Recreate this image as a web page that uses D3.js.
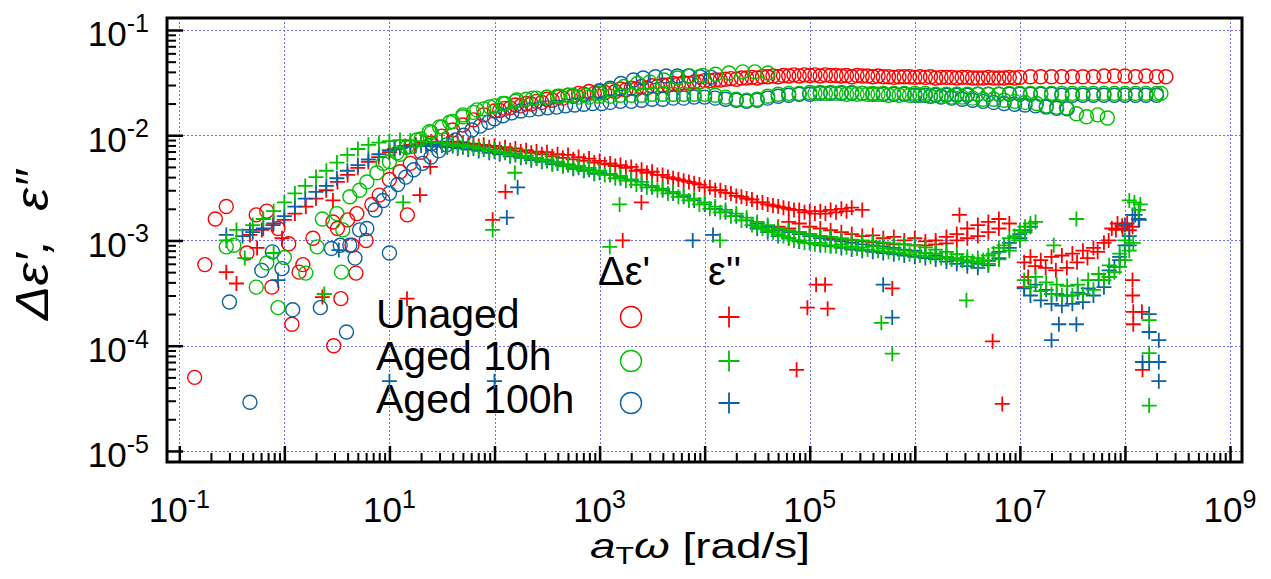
<!DOCTYPE html>
<html>
<head>
<meta charset="utf-8">
<script src="https://cdn.jsdelivr.net/npm/d3@7"></script>
<style>
  body { margin: 0; background: #fff; }
  svg { display: block; }
  text { font-family: "Liberation Sans", Arial, Helvetica, sans-serif; fill: #000; }
</style>
</head>
<body>
<svg id="chart" width="1271" height="579"></svg>
<script>
// ---- axis ticks -------------------------------------------------------
const xMajorTicks = [1e-1, 1e0, 1e1, 1e2, 1e3, 1e4, 1e5, 1e6, 1e7, 1e8, 1e9];
const xLabelTicks = [1e-1, 1e1, 1e3, 1e5, 1e7, 1e9];
const yMajorTicks = [1e-5, 1e-4, 1e-3, 1e-2, 1e-1];
const yLabelTicks = [1e-5, 1e-4, 1e-3, 1e-2, 1e-1];
const minorMantissas = [2, 3, 4, 5, 6, 7, 8, 9];

// ---- samples ------------------------------------------------------------
const sampleNames = ["Unaged", "Aged 10h", "Aged 100h"];
const sampleColors = ["#ff0000", "#00c000", "#0b62a2"];

// ---- measured data: [a_T·ω (rad/s), value] ---------------------------------
// Δε' of the unaged sample
const unagedStorage = [
  [0.14,5.0e-5],[0.175,5.9e-4],[0.22,1.6e-3],[0.28,2.1e-3],[0.44,7.6e-4],[0.54,1.75e-3],
  [0.68,1.9e-3],[0.76,3.6e-4],[0.87,1.3e-3],[1.1,9.3e-4],[1.18,1.6e-4],[1.38,5.0e-4],
  [1.5,5.9e-4],[1.87,1.05e-3],[2.9,1.5e-3],[2.95,1.0e-4],[3.2,1.3e-3],[3.45,2.8e-4],
  [4.0,1.57e-3],[4.4,9.0e-4],[4.8,4.9e-4],[4.9,1.8e-3],[6.0,1.0e-3],[6.8,2.2e-3],
  [8.0,2.7e-3],[14.8,1.75e-3],
  [10,3.8e-3],[12.6,4.5e-3],[15.8,5.4e-3],[20,6.9e-3],[25,8.4e-3],[31.6,9.8e-3],[40,1.12e-2],
  [50,1.25e-2],[63,1.4e-2],[79,1.56e-2],[100,1.7e-2],[126,1.8e-2],[158,1.94e-2],[200,2.0e-2],
  [251,2.1e-2],[316,2.2e-2],[398,2.3e-2],[501,2.4e-2],[631,2.5e-2],[794,2.6e-2],[1000,2.65e-2],
  [1260,2.7e-2],[1580,2.75e-2],[2000,2.8e-2],[2510,2.9e-2],[3160,2.95e-2],[3980,3.0e-2],
  [5010,3.1e-2],[6310,3.15e-2],[7940,3.2e-2],[1e4,3.3e-2],[1.26e4,3.35e-2],[1.58e4,3.4e-2],
  [2e4,3.4e-2],[2.51e4,3.5e-2],[3.16e4,3.5e-2],[3.98e4,3.6e-2],[5.01e4,3.6e-2],[6.31e4,3.65e-2],
  [7.94e4,3.65e-2],[1e5,3.7e-2],[1.26e5,3.65e-2],[1.58e5,3.7e-2],[2e5,3.65e-2],[2.51e5,3.6e-2],
  [3.16e5,3.65e-2],[3.98e5,3.6e-2],[5.01e5,3.6e-2],[6.31e5,3.55e-2],[7.94e5,3.6e-2],[1e6,3.55e-2],
  [1.26e6,3.55e-2],[1.58e6,3.5e-2],[2e6,3.55e-2],[2.51e6,3.5e-2],[3.16e6,3.55e-2],[3.98e6,3.5e-2],
  [5.01e6,3.55e-2],[6.31e6,3.5e-2],[7.94e6,3.55e-2],[1e7,3.55e-2],[1.26e7,3.6e-2],[1.58e7,3.6e-2],
  [2e7,3.6e-2],[2.51e7,3.6e-2],[3.16e7,3.6e-2],[3.98e7,3.6e-2],[5.01e7,3.6e-2],[6.31e7,3.65e-2],
  [7.94e7,3.65e-2],[1e8,3.65e-2],[1.26e8,3.6e-2],[1.58e8,3.65e-2],[2e8,3.6e-2],[2.45e8,3.6e-2],
  [112,1.72e-2],[141,1.82e-2],[178,1.9e-2],[224,1.98e-2],[282,2.05e-2],[355,2.15e-2],[447,2.25e-2],
  [562,2.35e-2],[708,2.45e-2],[891,2.5e-2],[1120,2.55e-2],[1410,2.6e-2],[1780,2.7e-2],[2240,2.75e-2],
  [2820,2.8e-2],[3550,2.9e-2],[4470,3.0e-2],[5620,3.05e-2],[7080,3.1e-2],[8910,3.2e-2],
  [1.12e4,3.3e-2],[1.41e4,3.35e-2],[1.78e4,3.45e-2],[2.24e4,3.5e-2],[2.82e4,3.55e-2],[3.55e4,3.6e-2],
  [4.47e4,3.65e-2],[5.62e4,3.7e-2],[7.08e4,3.75e-2],[8.91e4,3.75e-2],[1.12e5,3.75e-2],[1.41e5,3.75e-2],
  [1.78e5,3.7e-2],[2.24e5,3.7e-2],[2.82e5,3.7e-2],[3.55e5,3.65e-2],[4.47e5,3.65e-2],[5.62e5,3.6e-2],
  [7.08e5,3.6e-2],[8.91e5,3.6e-2],[1.12e6,3.6e-2],[1.41e6,3.6e-2],[1.78e6,3.55e-2],[2.24e6,3.55e-2],
  [2.82e6,3.55e-2],[3.55e6,3.5e-2],[4.47e6,3.5e-2],[5.62e6,3.5e-2],[7.08e6,3.5e-2],[8.91e6,3.5e-2]
];

// Δε' after 10 h of ageing
const aged10hStorage = [
  [0.28,8.7e-4],[0.33,9.0e-4],[0.54,3.6e-4],[0.68,6.1e-4],[0.87,2.3e-4],[1.0,6.9e-4],
  [1.6,4.9e-4],[2.05,8.7e-4],[3.5,5.0e-4],[3.6,1.26e-3],
  [2.3,1.6e-3],[3.16,1.8e-3],[4.2,2.6e-3],[5.2,3.0e-3],[6.1,3.6e-3],[7.6,4.4e-3],[8.7,5.4e-3],
  [11.8,6.8e-3],[14.6,7.7e-3],[18.2,9.0e-3],[24,1.08e-2],[30,1.2e-2],[37.5,1.33e-2],[50,1.56e-2],
  [68,1.74e-2],[90,1.86e-2],[120,2.0e-2],[163,2.16e-2],[231,2.25e-2],[314,2.3e-2],[418,2.35e-2],
  [556,2.4e-2],[738,2.4e-2],[1000,2.5e-2],
  [10,5.6e-3],[12.6,6.6e-3],[15.8,7.8e-3],[20,9.2e-3],[25,1.06e-2],[31.6,1.2e-2],[40,1.35e-2],
  [50,1.5e-2],[63,1.65e-2],[79,1.78e-2],[100,1.9e-2],[126,2.0e-2],[158,2.1e-2],[200,2.2e-2],
  [251,2.25e-2],[316,2.3e-2],[398,2.35e-2],[501,2.4e-2],
  [1260,2.7e-2],[1700,2.9e-2],[2300,3.1e-2],[3000,3.2e-2],[4100,3.35e-2],[5500,3.5e-2],
  [7200,3.65e-2],[9600,3.7e-2],[1.27e4,3.8e-2],[1.7e4,3.9e-2],[2.3e4,4.0e-2],[3.0e4,4.0e-2],[4.0e4,3.9e-2],
  [631,2.3e-2],[794,2.3e-2],[1000,2.35e-2],[1260,2.35e-2],[1580,2.4e-2],[2000,2.4e-2],[2510,2.4e-2],
  [3160,2.45e-2],[3980,2.45e-2],[5010,2.45e-2],[6310,2.45e-2],[7940,2.45e-2],[1e4,2.45e-2],
  [1.26e4,2.4e-2],[1.58e4,2.3e-2],[2e4,2.2e-2],[2.51e4,2.15e-2],[3.16e4,2.2e-2],[3.98e4,2.35e-2],
  [5.01e4,2.45e-2],[6.31e4,2.5e-2],[7.94e4,2.5e-2],[1e5,2.55e-2],[1.26e5,2.55e-2],[1.58e5,2.55e-2],
  [2e5,2.55e-2],[2.51e5,2.55e-2],[3.16e5,2.5e-2],[3.98e5,2.5e-2],[5.01e5,2.5e-2],[6.31e5,2.5e-2],
  [7.94e5,2.5e-2],[1e6,2.5e-2],[1.26e6,2.5e-2],[1.58e6,2.45e-2],[2e6,2.45e-2],[2.51e6,2.45e-2],
  [3.16e6,2.45e-2],[3.98e6,2.45e-2],[5.01e6,2.45e-2],[6.31e6,2.45e-2],[7.94e6,2.5e-2],[1e7,2.5e-2],
  [1.26e7,2.5e-2],[1.58e7,2.5e-2],[2e7,2.5e-2],[2.51e7,2.5e-2],[3.16e7,2.5e-2],[3.98e7,2.5e-2],
  [5.01e7,2.5e-2],[6.31e7,2.5e-2],[7.94e7,2.5e-2],[1e8,2.5e-2],[1.26e8,2.5e-2],[1.58e8,2.5e-2],
  [2e8,2.5e-2],[2.2e8,2.5e-2],
  [1.12e5,2.5e-2],[1.41e5,2.5e-2],[1.78e5,2.5e-2],[2.24e5,2.45e-2],[2.82e5,2.45e-2],[3.55e5,2.45e-2],
  [4.47e5,2.45e-2],[5.62e5,2.4e-2],[7.08e5,2.4e-2],[8.91e5,2.4e-2],[1.12e6,2.4e-2],[1.41e6,2.35e-2],
  [1.78e6,2.35e-2],[2.24e6,2.3e-2],[2.82e6,2.3e-2],[3.55e6,2.25e-2],[4.47e6,2.2e-2],[5.62e6,2.2e-2],
  [7.08e6,2.15e-2],[8.91e6,2.1e-2],[1.12e7,2.05e-2],[1.44e7,2.0e-2],[1.79e7,1.9e-2],[2.23e7,1.85e-2],
  [2.77e7,1.82e-2],[3.45e7,1.6e-2],[4.3e7,1.5e-2],[5.5e7,1.56e-2],[6.8e7,1.46e-2]
];

// Δε' after 100 h of ageing
const aged100hStorage = [
  [0.3,2.6e-4],[0.47,2.9e-5],[0.61,5.2e-4],[0.77,7.8e-4],[0.95,5.4e-4],[1.2,2.2e-4],
  [2.2,2.3e-4],[2.8,8.4e-4],[3.4,9.0e-4],[3.9,1.35e-4],[4.2,9.0e-4],[4.7,6.8e-4],
  [5.2,1.26e-3],[6.1,1.3e-3],[10,7.6e-4],
  [7.3,1.95e-3],[8.7,2.4e-3],[10,2.8e-3],[12,3.4e-3],[14.3,4.0e-3],[17,4.7e-3],[20.7,5.4e-3],
  [24.8,6.2e-3],[29.5,7.1e-3],[35,8.1e-3],[42.5,9.0e-3],[51,1.0e-2],[61,1.12e-2],[73,1.22e-2],
  [88,1.33e-2],[100,1.43e-2],[120,1.53e-2],[146,1.63e-2],[178,1.7e-2],[216,1.74e-2],[263,1.78e-2],
  [320,1.82e-2],[390,1.85e-2],[475,1.9e-2],[580,1.94e-2],[705,1.97e-2],[860,2.0e-2],[1050,2.0e-2],
  [1260,2.05e-2],[1580,2.1e-2],[2000,2.1e-2],[2510,2.15e-2],[3160,2.2e-2],[3980,2.2e-2],
  [5010,2.25e-2],[6310,2.25e-2],[7940,2.3e-2],[1e4,2.3e-2],[1.26e4,2.25e-2],[1.58e4,2.2e-2],
  [2e4,2.15e-2],[2.51e4,2.1e-2],[3.16e4,2.15e-2],[3.98e4,2.25e-2],[5.01e4,2.35e-2],[6.31e4,2.4e-2],
  [7.94e4,2.45e-2],[1e5,2.45e-2],
  [1000,2.6e-2],[1260,2.8e-2],[1600,3.1e-2],[2100,3.35e-2],[2600,3.5e-2],[3400,3.6e-2],
  [4300,3.65e-2],[5500,3.65e-2],[7000,3.65e-2],[9000,3.6e-2],[1.15e4,3.55e-2],
  [1.26e5,2.5e-2],[1.58e5,2.5e-2],[2e5,2.5e-2],[2.51e5,2.5e-2],[3.16e5,2.5e-2],[3.98e5,2.45e-2],
  [5.01e5,2.45e-2],[6.31e5,2.45e-2],[7.94e5,2.45e-2],[1e6,2.4e-2],[1.26e6,2.4e-2],[1.58e6,2.4e-2],
  [2e6,2.4e-2],[2.51e6,2.4e-2],[3.16e6,2.4e-2],[3.98e6,2.45e-2],[5.01e6,2.45e-2],[6.31e6,2.45e-2],
  [7.94e6,2.45e-2],[1e7,2.45e-2],[1.26e7,2.45e-2],[1.58e7,2.45e-2],[2e7,2.45e-2],[2.51e7,2.4e-2],
  [3.16e7,2.4e-2],[3.98e7,2.4e-2],[5.01e7,2.4e-2],[6.31e7,2.4e-2],[7.94e7,2.4e-2],[1e8,2.4e-2],
  [1.26e8,2.4e-2],[1.58e8,2.4e-2],[2e8,2.4e-2],
  [1.12e6,2.4e-2],[1.41e6,2.35e-2],[1.78e6,2.3e-2],[2.24e6,2.25e-2],[2.82e6,2.2e-2],[3.55e6,2.15e-2],
  [4.47e6,2.1e-2],[5.62e6,2.05e-2],[7.08e6,2.0e-2],[8.91e6,1.97e-2],[1.12e7,1.94e-2],[1.41e7,1.9e-2],
  [1.78e7,1.85e-2],[2.24e7,1.8e-2],[2.82e7,1.78e-2]
];

// ε'' of the unaged sample
const unagedLoss = [
  [0.28,5.0e-4],[0.35,3.9e-4],[0.55,8.5e-4],[0.95,1.05e-3],[2.3,2.9e-4],[2.9,2.4e-3],
  [14.7,2.8e-4],[19.5,2.7e-3],[24.5,5.0e-3],[96,1.57e-3],[127,2.9e-3],[1660,1.0e-3],
  [2500,2.3e-3],[7.5e4,5.9e-5],[9.5e4,2.3e-4],[1.48e5,2.25e-4],[1.15e5,3.8e-4],[1.4e5,3.8e-4],
  [6.1e5,3.5e-4],[2.66e6,1.75e-3],[5.5e6,1.1e-4],[6.8e6,2.8e-5],
  [0.47,1.13e-3],[0.61,1.26e-3],[0.78,1.4e-3],[1.0,1.57e-3],[1.26,1.8e-3],[1.6,2.1e-3],[2.0,2.5e-3],
  [2.5,3.0e-3],[3.2,3.6e-3],[4.0,4.2e-3],[5.0,4.9e-3],[6.3,5.6e-3],[7.9,6.2e-3],[10,6.9e-3],
  [12.6,7.6e-3],[15.8,8.1e-3],[20,8.5e-3],[25,8.7e-3],[31.6,8.7e-3],[40,8.7e-3],[50,8.5e-3],
  [63,8.3e-3],[79,8.1e-3],[100,7.9e-3],[126,7.7e-3],[158,7.5e-3],[200,7.2e-3],[251,7.0e-3],
  [316,6.9e-3],[398,6.6e-3],[501,6.5e-3],[631,6.2e-3],[794,6.0e-3],[1000,5.7e-3],[1260,5.4e-3],
  [1580,5.2e-3],[2000,5.0e-3],[2510,4.7e-3],[3160,4.5e-3],[3980,4.2e-3],[5010,3.9e-3],
  [6310,3.7e-3],[7940,3.5e-3],[1e4,3.2e-3],[1.26e4,3.0e-3],[1.58e4,2.85e-3],[2e4,2.65e-3],
  [2.51e4,2.5e-3],[3.16e4,2.3e-3],[3.98e4,2.2e-3],[5.01e4,2.1e-3],[6.31e4,2.0e-3],[7.94e4,1.95e-3],
  [1e5,1.9e-3],[1.26e5,1.9e-3],[1.58e5,1.95e-3],[2e5,2.0e-3],[2.51e5,2.05e-3],[3.16e5,1.95e-3],
  [11.2,7.4e-3],[14.1,7.9e-3],[17.8,8.2e-3],[22.4,8.4e-3],[28.2,8.5e-3],[35.5,8.4e-3],[44.7,8.3e-3],
  [56.2,8.1e-3],[70.8,7.9e-3],[89.1,7.7e-3],[112,7.4e-3],[141,7.2e-3],[178,7.0e-3],[224,6.8e-3],
  [282,6.6e-3],[355,6.3e-3],[447,6.1e-3],[562,5.9e-3],[708,5.7e-3],[891,5.5e-3],[1120,5.3e-3],
  [1410,5.1e-3],[1780,4.9e-3],[2240,4.6e-3],[2820,4.4e-3],[3550,4.2e-3],[4470,4.0e-3],[5620,3.8e-3],
  [7080,3.6e-3],[8910,3.4e-3],[1.12e4,3.2e-3],[1.41e4,3.0e-3],[1.78e4,2.8e-3],[2.24e4,2.6e-3],
  [2.82e4,2.45e-3],[3.55e4,2.3e-3],[4.47e4,2.15e-3],[5.62e4,2.05e-3],[7.08e4,1.95e-3],
  [8.91e4,1.85e-3],[1.12e5,1.8e-3],[1.41e5,1.8e-3],[1.78e5,1.85e-3],[2.24e5,1.9e-3],
  [5.01e4,1.35e-3],[6.31e4,1.3e-3],[7.94e4,1.2e-3],[1e5,1.15e-3],[1.26e5,1.1e-3],[1.58e5,1.05e-3],
  [2e5,1.02e-3],[2.51e5,1.0e-3],[3.16e5,9.8e-4],[3.98e5,9.6e-4],[5.01e5,9.4e-4],[6.31e5,9.2e-4],
  [7.94e5,9.2e-4],[1e6,9.0e-4],[1.26e6,9.0e-4],[1.58e6,9.2e-4],[2e6,9.4e-4],[2.51e6,1.0e-3],
  [3.16e6,1.05e-3],[3.98e6,1.1e-3],[5.01e6,1.2e-3],[6.31e6,1.3e-3],[7.94e6,1.45e-3],
  [6.31e4,1.5e-3],[7.94e4,1.45e-3],[1e5,1.35e-3],[1.26e5,1.3e-3],[1.58e5,1.25e-3],[2e5,1.2e-3],
  [2.51e5,1.15e-3],[3.16e5,1.1e-3],[3.98e5,1.12e-3],[5.01e5,1.05e-3],[6.31e5,1.08e-3],[7.94e5,1.0e-3],
  [1e6,1.05e-3],[1.26e6,9.8e-4],[1.58e6,1.0e-3],[2e6,1.08e-3],[2.51e6,1.15e-3],[3.16e6,1.3e-3],
  [3.98e6,1.4e-3],[5.01e6,1.5e-3],[6.31e6,1.6e-3],
  [1.1e7,6.2e-4],[1.4e7,5.7e-4],[1.76e7,5.5e-4],[2.2e7,5.2e-4],[2.8e7,5.5e-4],[3.5e7,6.2e-4],
  [4.4e7,6.8e-4],[5.5e7,7.8e-4],[7e7,1.0e-3],[8.2e7,1.26e-3],[9.4e7,1.38e-3],[1.05e8,1.45e-3],
  [1.18e8,1.35e-3],[1.1e7,3.6e-4],[1.2e7,4.5e-4],
  [1.26e7,7.0e-4],[1.58e7,6.5e-4],[2e7,7.0e-4],[2.51e7,7.2e-4],[3.16e7,7.5e-4],[3.98e7,8.0e-4],
  [5.01e7,8.5e-4],[6.31e7,9.5e-4],
  [7.5e7,1.3e-3],[8.5e7,1.45e-3],[9.5e7,1.3e-3],[1.1e8,1.25e-3],
  [1.18e8,4.2e-4],[1.18e8,3.0e-4],[1.2e8,2.1e-4],[1.2e8,1.6e-4],[1.45e8,2.1e-4],[1.47e8,5.9e-5]
];

// ε'' after 10 h of ageing
const aged10hLoss = [
  [0.28,1.0e-3],[0.35,1.26e-3],[0.42,6.8e-4],[0.79,7.6e-4],[2.4,3.1e-4],[13.5,2.3e-3],
  [96,1.26e-3],[156,4.4e-3],[1250,8.7e-4],[1550,2.2e-3],[1.4e4,1.0e-3],[4.8e5,1.65e-4],
  [6.1e5,8.4e-5],[3.1e6,2.7e-4],[2.1e7,9.0e-4],[3.45e7,1.6e-3],
  [0.5,1.4e-3],[0.63,1.6e-3],[0.79,1.9e-3],[1.0,2.3e-3],[1.26,2.8e-3],[1.58,3.3e-3],[2.0,4.0e-3],
  [2.51,4.6e-3],[3.16,5.5e-3],[3.98,6.5e-3],[5.01,7.4e-3],[6.31,8.1e-3],[7.94,8.5e-3],[10,8.8e-3],
  [12.6,9.0e-3],[15.8,8.9e-3],[20,8.8e-3],[25,8.6e-3],[31.6,8.5e-3],[40,8.3e-3],[50,8.1e-3],
  [63,7.9e-3],[79,7.6e-3],[100,7.3e-3],[126,7.0e-3],[158,6.7e-3],[200,6.4e-3],[251,6.1e-3],
  [316,5.9e-3],[398,5.6e-3],[501,5.3e-3],[631,5.1e-3],[794,4.9e-3],[1000,4.6e-3],[1260,4.3e-3],
  [1580,4.1e-3],[2000,3.8e-3],[2510,3.6e-3],[3160,3.3e-3],[3980,3.1e-3],[5010,2.9e-3],
  [6310,2.7e-3],[7940,2.5e-3],[1e4,2.3e-3],[1.26e4,2.1e-3],[1.58e4,1.95e-3],[2e4,1.8e-3],
  [2.51e4,1.65e-3],[3.16e4,1.5e-3],[3.98e4,1.4e-3],[5.01e4,1.3e-3],[6.31e4,1.25e-3],[7.94e4,1.2e-3],
  [1e5,1.15e-3],[1.26e5,1.1e-3],[1.58e5,1.08e-3],[2e5,1.05e-3],[2.51e5,1.02e-3],[3.16e5,1.0e-3],
  [3.98e5,9.8e-4],[5.01e5,9.6e-4],[6.31e5,9.4e-4],[7.94e5,9.2e-4],[1e6,9.0e-4],[1.26e6,8.6e-4],
  [1.58e6,8.2e-4],[2e6,7.8e-4],[2.51e6,7.4e-4],[3.16e6,7.0e-4],[3.98e6,6.8e-4],[5.01e6,7.2e-4],
  [6.31e6,8.5e-4],[7.94e6,1.05e-3],[1e7,1.25e-3],[1.26e7,1.45e-3],
  [35.5,8.0e-3],[44.7,7.9e-3],[56.2,7.7e-3],[70.8,7.5e-3],[89.1,7.2e-3],[112,6.9e-3],[141,6.6e-3],
  [178,6.3e-3],[224,6.0e-3],[282,5.7e-3],[355,5.4e-3],[447,5.1e-3],[562,4.9e-3],[708,4.7e-3],
  [891,4.4e-3],[1120,4.2e-3],[1410,3.9e-3],[1780,3.7e-3],[2240,3.4e-3],[2820,3.2e-3],[3550,3.0e-3],
  [4470,2.8e-3],[5620,2.6e-3],[7080,2.4e-3],[8910,2.2e-3],[1.12e4,2.0e-3],[1.41e4,1.85e-3],
  [1.78e4,1.7e-3],[2.24e4,1.55e-3],[2.82e4,1.4e-3],[3.55e4,1.3e-3],[4.47e4,1.2e-3],[5.62e4,1.1e-3],
  [7.08e4,1.0e-3],[8.91e4,9.5e-4],[1.12e5,9.2e-4],[1.41e5,9.0e-4],[1.78e5,8.8e-4],[2.24e5,8.6e-4],
  [2.82e5,8.4e-4],[3.55e5,8.2e-4],[4.47e5,8.0e-4],[5.62e5,7.8e-4],[7.08e5,7.6e-4],[8.91e5,7.4e-4],
  [1.12e6,7.2e-4],[1.41e6,7.0e-4],[1.78e6,6.8e-4],[2.24e6,6.6e-4],[2.82e6,6.4e-4],[3.55e6,6.3e-4],
  [4.47e6,6.5e-4],[5.62e6,7.5e-4],[7.08e6,9.0e-4],[8.91e6,1.1e-3],[1.12e7,1.35e-3],[1.41e7,1.5e-3],
  [3.16e4,1.35e-3],[3.98e4,1.25e-3],[5.01e4,1.15e-3],[6.31e4,1.05e-3],[7.94e4,1.0e-3],[1e5,9.5e-4],
  [1.26e5,9.5e-4],[1.58e5,9.0e-4],[2e5,9.2e-4],[2.51e5,8.8e-4],[3.16e5,8.6e-4],[3.98e5,8.8e-4],
  [5.01e5,8.4e-4],[6.31e5,8.2e-4],[7.94e5,8.0e-4],[1e6,7.8e-4],[1.26e6,7.6e-4],[1.58e6,7.5e-4],
  [2e6,7.0e-4],[2.51e6,6.8e-4],[3.16e6,6.5e-4],[3.98e6,6.2e-4],[5.01e6,6.0e-4],[6.31e6,6.6e-4],
  [7.94e6,8.0e-4],[1e7,1.0e-3],[1.12e7,1.2e-3],
  [1.1e7,4.2e-4],[1.26e7,3.6e-4],[1.58e7,3.3e-4],[2e7,3.1e-4],[2.51e7,3.0e-4],[3.16e7,3.0e-4],
  [3.98e7,3.1e-4],[5.01e7,3.4e-4],[6.31e7,4.2e-4],[7.08e7,4.5e-4],[7.94e7,5.0e-4],[8.91e7,5.6e-4],
  [1e8,6.5e-4],[1.1e8,8.0e-4],
  [1.41e7,4.5e-4],[1.78e7,4.0e-4],[2.24e7,3.8e-4],[2.82e7,3.7e-4],[3.55e7,3.8e-4],[4.47e7,4.2e-4],
  [5.62e7,4.8e-4],[7.08e7,5.8e-4],[8.91e7,7.5e-4],[1e8,1.0e-3],
  [1.1e8,2.4e-3],[1.23e8,2.3e-3],[1.35e8,1.95e-3],[1.4e8,2.2e-3],[1.2e8,9.5e-4],
  [1.7e8,1.75e-4],[1.7e8,8.5e-5],[1.7e8,2.7e-5]
];

// ε'' after 100 h of ageing
const aged100hLoss = [
  [0.28,1.13e-3],[0.47,1.26e-3],[0.87,4.2e-4],[3.3,8.1e-4],[10,4.6e-5],[100,4.6e-5],
  [131,1.65e-3],[166,3.2e-3],[7700,1.0e-3],[1.2e4,1.13e-3],[5.0e5,3.8e-4],[6.1e5,1.85e-4],
  [2.0e7,1.13e-4],[2.35e7,1.6e-4],[3.45e7,1.6e-4],
  [0.4,1.1e-3],[0.5,1.2e-3],[0.63,1.3e-3],[0.79,1.45e-3],[1.0,1.7e-3],[1.26,2.1e-3],[1.58,2.5e-3],
  [2.0,2.9e-3],[2.51,3.3e-3],[3.16,3.9e-3],[3.98,4.6e-3],[5.01,5.2e-3],[6.31,5.9e-3],[7.94,6.6e-3],
  [10,7.2e-3],[12.6,7.6e-3],[15.8,7.9e-3],[20,8.0e-3],[25,8.1e-3],[31.6,8.0e-3],[40,7.9e-3],
  [50,7.7e-3],[63,7.5e-3],[79,7.3e-3],[100,7.0e-3],[126,6.8e-3],[158,6.5e-3],[200,6.2e-3],
  [251,6.0e-3],[316,5.7e-3],[398,5.4e-3],[501,5.2e-3],[631,4.9e-3],[794,4.7e-3],[1000,4.4e-3],
  [1260,4.2e-3],[1580,3.9e-3],[2000,3.7e-3],[2510,3.4e-3],[3160,3.2e-3],[3980,3.0e-3],
  [5010,2.8e-3],[6310,2.6e-3],[7940,2.4e-3],[1e4,2.2e-3],[1.26e4,2.0e-3],[1.58e4,1.85e-3],
  [2e4,1.7e-3],[2.51e4,1.55e-3],[3.16e4,1.45e-3],[3.98e4,1.35e-3],[5.01e4,1.25e-3],[6.31e4,1.2e-3],
  [7.94e4,1.15e-3],[1e5,1.1e-3],[1.26e5,1.05e-3],[1.58e5,1.02e-3],[2e5,9.8e-4],[2.51e5,9.5e-4],
  [3.16e5,9.2e-4],[3.98e5,9.0e-4],[5.01e5,8.8e-4],[6.31e5,8.5e-4],[7.94e5,8.2e-4],[1e6,8.0e-4],
  [1.26e6,7.6e-4],[1.58e6,7.2e-4],[2e6,6.9e-4],[2.51e6,6.5e-4],[3.16e6,6.2e-4],[3.98e6,6.0e-4],
  [5.01e6,6.4e-4],[6.31e6,7.8e-4],[7.94e6,9.5e-4],[1e7,1.15e-3],[1.26e7,1.35e-3],
  [11.2,7.3e-3],[14.1,7.7e-3],[17.8,7.9e-3],[22.4,7.9e-3],[28.2,7.8e-3],[35.5,7.7e-3],[44.7,7.5e-3],
  [56.2,7.3e-3],[70.8,7.1e-3],[89.1,6.8e-3],[112,6.6e-3],[141,6.3e-3],[178,6.1e-3],[224,5.8e-3],
  [282,5.6e-3],[355,5.3e-3],[447,5.1e-3],[562,4.8e-3],[708,4.6e-3],[891,4.3e-3],
  [3.16e4,1.3e-3],[3.98e4,1.2e-3],[5.01e4,1.1e-3],[6.31e4,1.05e-3],[7.94e4,9.8e-4],[1e5,9.5e-4],
  [1.26e5,9.0e-4],[1.58e5,8.8e-4],[2e5,8.5e-4],[2.51e5,8.2e-4],[3.16e5,8.0e-4],[3.98e5,7.8e-4],
  [5.01e5,7.6e-4],[6.31e5,7.4e-4],[7.94e5,7.2e-4],[1e6,7.0e-4],[1.26e6,6.8e-4],[1.58e6,6.6e-4],
  [2e6,6.3e-4],[2.51e6,6.0e-4],[3.16e6,5.7e-4],[3.98e6,5.5e-4],[5.01e6,5.8e-4],[6.31e6,6.8e-4],
  [7.94e6,8.5e-4],[1e7,1.05e-3],[1.12e7,1.25e-3],
  [1.1e7,3.5e-4],[1.26e7,3.0e-4],[1.58e7,2.7e-4],[2e7,2.5e-4],[2.51e7,2.4e-4],[3.16e7,2.5e-4],
  [3.98e7,2.6e-4],[5.01e7,3.0e-4],[6.31e7,3.6e-4],[7.08e7,4.5e-4],[7.94e7,5.6e-4],[8.91e7,7.0e-4],
  [1e8,9.0e-4],[1.1e8,1.1e-3],
  [1.41e7,3.8e-4],[1.78e7,3.4e-4],[2.24e7,3.1e-4],[2.82e7,3.0e-4],[3.55e7,3.2e-4],[4.47e7,3.5e-4],
  [5.62e7,4.2e-4],[7.08e7,5.2e-4],[8.91e7,6.5e-4],
  [1.0e8,1.4e-3],[1.18e8,1.75e-3],[1.25e8,1.75e-3],[1.35e8,1.6e-3],[1.37e8,1.57e-3],[1.1e8,9.0e-4],
  [1.7e8,2.0e-4],[1.7e8,1.35e-4],[2.1e8,1.13e-4],[1.7e8,7.0e-5],[2.1e8,7.0e-5],[2.1e8,4.6e-5],[1.47e8,7.0e-5]
];

// ---- layout -------------------------------------------------------------
const svg = d3.select("#chart");
const frame = { left: 167, right: 1242, top: 18, bottom: 462 };

const x = d3.scaleLog()
  .domain([Math.pow(10, -1.117), Math.pow(10, 9.114)])
  .range([frame.left, frame.right]);
const y = d3.scaleLog()
  .domain([Math.pow(10, -5.105), Math.pow(10, -0.886)])
  .range([frame.bottom, frame.top]);

const minorOf = majors => majors.slice(0, -1)
  .flatMap(d => minorMantissas.map(m => m * d));

// dotted grid at every decade
const grid = svg.append("g")
  .attr("stroke", "#6f6fff")
  .attr("stroke-width", 1)
  .attr("stroke-dasharray", "2,2");
grid.selectAll("line.gx").data(xMajorTicks).join("line")
  .attr("x1", d => Math.round(x(d)) + 0.5).attr("x2", d => Math.round(x(d)) + 0.5)
  .attr("y1", frame.top).attr("y2", frame.bottom);
grid.selectAll("line.gy").data(yMajorTicks).join("line")
  .attr("y1", d => Math.round(y(d)) + 0.5).attr("y2", d => Math.round(y(d)) + 0.5)
  .attr("x1", frame.left).attr("x2", frame.right);

// ---- marks --------------------------------------------------------------
const crossPath = h => `M${-h},0H${h}M0,${-h}V${h}`;

function drawCircles(data, color) {
  svg.append("g").selectAll("circle").data(data).join("circle")
    .attr("cx", d => x(d[0])).attr("cy", d => y(d[1])).attr("r", 7)
    .attr("fill", "none").attr("stroke", color).attr("stroke-width", 1.4);
}
function drawCrosses(data, color) {
  svg.append("g").selectAll("path").data(data).join("path")
    .attr("transform", d => `translate(${x(d[0])},${y(d[1])})`)
    .attr("d", crossPath(7.5))
    .attr("fill", "none").attr("stroke", color).attr("stroke-width", 1.8);
}

// legend text sits beneath the data
const legend = svg.append("g");
legend.append("text").attr("x", 598).attr("y", 285).attr("font-size", 40).text("Δε'");
legend.append("text").attr("x", 708).attr("y", 285).attr("font-size", 40).text("ε''");
const legendRows = [317, 361, 403];
const legendBase = [328, 370, 413];
sampleNames.forEach((name, i) => {
  legend.append("text").attr("x", 376).attr("y", legendBase[i]).attr("font-size", 41).text(name);
  legend.append("circle").attr("cx", 631).attr("cy", legendRows[i]).attr("r", 10.5)
    .attr("fill", "none").attr("stroke", sampleColors[i]).attr("stroke-width", 1.4);
  legend.append("path").attr("transform", `translate(729,${legendRows[i]})`)
    .attr("d", crossPath(10.5)).attr("fill", "none")
    .attr("stroke", sampleColors[i]).attr("stroke-width", 1.8);
});

drawCircles(unagedStorage, sampleColors[0]);
drawCrosses(unagedLoss, sampleColors[0]);
drawCircles(aged100hStorage, sampleColors[2]);
drawCrosses(aged100hLoss, sampleColors[2]);
drawCircles(aged10hStorage, sampleColors[1]);
drawCrosses(aged10hLoss, sampleColors[1]);

// ---- axes: inward ticks on left and bottom -------------------------------
function tickAxis(axis, values, size, width, transform) {
  const g = svg.append("g").attr("transform", transform)
    .call(axis.tickValues(values).tickSize(size).tickFormat(""));
  g.select(".domain").remove();
  g.selectAll(".tick line").attr("stroke", "#000").attr("stroke-width", width);
  return g;
}
tickAxis(d3.axisBottom(x), minorOf(xMajorTicks), -9, 2, `translate(0,${frame.bottom})`);
tickAxis(d3.axisBottom(x), xMajorTicks, -16, 2.5, `translate(0,${frame.bottom})`);
tickAxis(d3.axisLeft(y), minorOf(yMajorTicks), -9, 2, `translate(${frame.left},0)`);
tickAxis(d3.axisLeft(y), yMajorTicks, -16, 2.5, `translate(${frame.left},0)`);

svg.append("rect")
  .attr("x", frame.left).attr("y", frame.top)
  .attr("width", frame.right - frame.left).attr("height", frame.bottom - frame.top)
  .attr("fill", "none").attr("stroke", "#000").attr("stroke-width", 3);

// tick labels as powers of ten
const exponent = v => Math.round(Math.log10(v));
function powerLabel(sel) {
  sel.append("tspan").text("10");
  sel.append("tspan").attr("dy", -14.5).attr("font-size", 25).text(d => exponent(d));
}
svg.append("g").selectAll("text").data(xLabelTicks).join("text")
  .attr("x", d => x(d)).attr("y", 522).attr("text-anchor", "middle")
  .attr("font-size", 35).call(powerLabel);
svg.append("g").selectAll("text").data(yLabelTicks).join("text")
  .attr("x", 149).attr("y", d => y(d) + 16.5).attr("text-anchor", "end")
  .attr("font-size", 35).call(powerLabel);

// axis titles
const yTitle = svg.append("text")
  .attr("transform", "translate(48,245) rotate(-90)")
  .attr("text-anchor", "middle").attr("font-size", 46).attr("font-style", "italic")
  .style("white-space", "pre").text("Δε′,  ε″");
yTitle.attr("textLength", 150).attr("lengthAdjust", "spacingAndGlyphs");

const xTitleG = svg.append("g");
const xTitle = xTitleG.append("text").attr("text-anchor", "middle").attr("font-size", 35)
  .style("white-space", "pre");
xTitle.append("tspan").attr("font-style", "italic").text("a");
xTitle.append("tspan").attr("font-size", 23).attr("dy", 6).text("T");
xTitle.append("tspan").attr("font-style", "italic").attr("dy", -6).text("ω");
xTitle.append("tspan").text(" [rad/s]");
const xTitleWidth = xTitle.node().getBBox().width;
xTitleG.attr("transform", `translate(700,558) scale(${220 / xTitleWidth},1)`);
</script>
</body>
</html>
